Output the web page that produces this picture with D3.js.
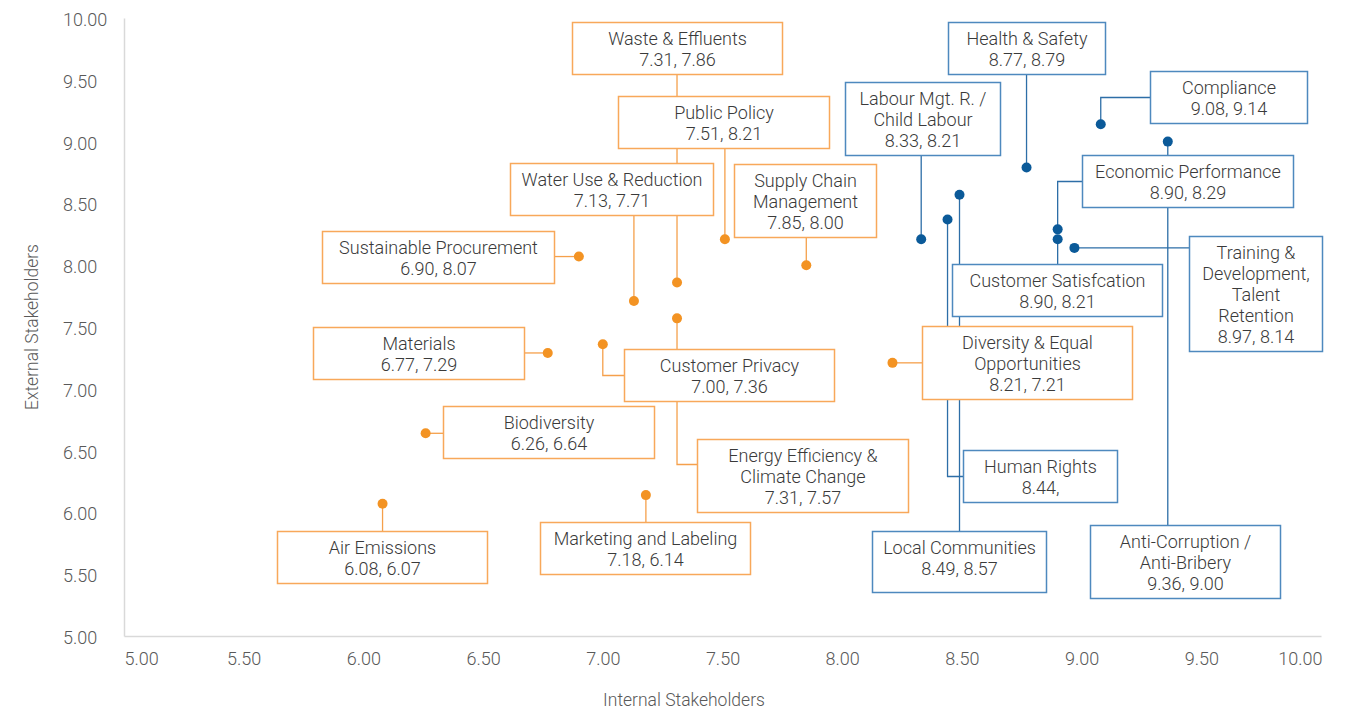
<!DOCTYPE html>
<html>
<head>
<meta charset="utf-8">
<script src="https://cdn.jsdelivr.net/npm/d3@7"></script>
<style>
  html, body { margin: 0; padding: 0; background: #ffffff; }
  svg { display: block; font-family: Roboto, "Noto Sans", sans-serif; font-weight: 300; }
</style>
</head>
<body>
<svg id="chart" width="1355" height="711"></svg>
<script>
// ---- Data: materiality scores (internal vs external stakeholders) ----
const topics = [
  "Waste & Effluents", "Public Policy", "Water Use & Reduction", "Supply Chain Management",
  "Sustainable Procurement", "Materials", "Customer Privacy", "Energy Efficiency & Climate Change",
  "Biodiversity", "Air Emissions", "Marketing and Labeling", "Diversity & Equal Opportunities",
  "Health & Safety", "Compliance", "Anti-Corruption / Anti-Bribery", "Labour Mgt. R. / Child Labour",
  "Economic Performance", "Customer Satisfcation", "Training & Development, Talent Retention",
  "Local Communities", "Human Rights"
];
const internalScores = [7.31, 7.51, 7.13, 7.85, 6.90, 6.77, 7.00, 7.31, 6.26, 6.08, 7.18, 8.21,
                        8.77, 9.08, 9.36, 8.33, 8.90, 8.90, 8.97, 8.49, 8.44];
const externalScores = [7.86, 8.21, 7.71, 8.00, 8.07, 7.29, 7.36, 7.57, 6.64, 6.07, 6.14, 7.21,
                        8.79, 9.14, 9.00, 8.21, 8.29, 8.21, 8.14, 8.57, 8.37];
// 0 = first series (orange), 1 = second series (blue)
const seriesOf = [0, 0, 0, 0, 0, 0, 0, 0, 0, 0, 0, 0,
                  1, 1, 1, 1, 1, 1, 1, 1, 1];
// topics whose callout leaves the external score blank
const blankExternal = ["Human Rights"];

const xTickValues = [5.00, 5.50, 6.00, 6.50, 7.00, 7.50, 8.00, 8.50, 9.00, 9.50, 10.00];
const yTickValues = [5.00, 5.50, 6.00, 6.50, 7.00, 7.50, 8.00, 8.50, 9.00, 9.50, 10.00];
const xTitle = "Internal Stakeholders";
const yTitle = "External Stakeholders";

// ---- Callout layout: name line breaks, box centre offset from the point (px), box size ----
const callouts = {
  "Waste & Effluents":                     { lines: ["Waste & Effluents"], dx: 0, dy: -234.5, w: 210 },
  "Public Policy":                         { lines: ["Public Policy"], dx: -1.4, dy: -117.7, w: 211 },
  "Water Use & Reduction":                 { lines: ["Water Use & Reduction"], dx: -22.4, dy: -112.5, w: 203 },
  "Supply Chain Management":               { lines: ["Supply Chain", "Management"], dx: -1.3, dy: -65.2, w: 142 },
  "Sustainable Procurement":               { lines: ["Sustainable Procurement"], dx: -140.9, dy: 0.5, w: 232 },
  "Materials":                             { lines: ["Materials"], dx: -129.2, dy: 0, w: 211 },
  "Customer Privacy":                      { lines: ["Customer Privacy"], dx: 126.2, dy: 30.2, w: 210 },
  "Energy Efficiency & Climate Change":    { lines: ["Energy Efficiency &", "Climate Change"], dx: 125.5, dy: 157.2, w: 211, attach: 25 },
  "Biodiversity":                          { lines: ["Biodiversity"], dx: 122.9, dy: -1.3, w: 211 },
  "Air Emissions":                         { lines: ["Air Emissions"], dx: -0.6, dy: 53.3, w: 210 },
  "Marketing and Labeling":                { lines: ["Marketing and Labeling"], dx: -0.9, dy: 52.9, w: 210 },
  "Diversity & Equal Opportunities":       { lines: ["Diversity & Equal", "Opportunities"], dx: 134.5, dy: -0.3, w: 210 },
  "Health & Safety":                       { lines: ["Health & Safety"], dx: 0, dy: -119.6, w: 157 },
  "Compliance":                            { lines: ["Compliance"], dx: 127.7, dy: -27.3, w: 157 },
  "Anti-Corruption / Anti-Bribery":        { lines: ["Anti-Corruption /", "Anti-Bribery"], dx: 17.2, dy: 419.9, w: 190 },
  "Labour Mgt. R. / Child Labour":         { lines: ["Labour Mgt. R. /", "Child Labour"], dx: 1.3, dy: -120.7, w: 155 },
  "Economic Performance":                  { lines: ["Economic Performance"], dx: 129.8, dy: -48.4, w: 211 },
  "Customer Satisfcation":                 { lines: ["Customer Satisfcation"], dx: -0.7, dy: 50.8, w: 210 },
  "Training & Development, Talent Retention": { lines: ["Training &", "Development,", "Talent", "Retention"], dx: 181.1, dy: 45.6, w: 133 },
  "Local Communities":                     { lines: ["Local Communities"], dx: -0.5, dy: 366.8, w: 174, h: 61 },
  "Human Rights":                          { lines: ["Human Rights"], dx: 92.5, dy: 256.5, w: 154 }
};

// ---- Styles ----
const palette = [
  { dot: "#F39323", box: "#F8A85A", lead: "#F5A04B" },
  { dot: "#0B5A99", box: "#4E89BE", lead: "#2D6EA7" }
];
const textColor = "#3a3a3a";
const axisText = "#595959";
const axisLine = "#D9D9D9";

const svg = d3.select("#chart");
const x = d3.scaleLinear().domain([5, 10]).range([124, 1321]);
const y = d3.scaleLinear().domain([5, 10]).range([636, 18]);
const fmt = d3.format(".2f");

// ---- Axes ----
const gx = svg.append("g").attr("transform", `translate(0,${y(5)})`)
  .call(d3.axisBottom(x).tickValues(xTickValues).tickFormat(fmt).tickSize(0).tickPadding(0));
gx.select(".domain").attr("stroke", axisLine).attr("stroke-width", 1.5);
gx.selectAll(".tick text")
  .attr("fill", axisText).attr("font-size", "18px")
  .attr("font-family", "Roboto, sans-serif").attr("font-weight", 300)
  .attr("dy", 0).attr("y", 22).attr("dominant-baseline", "central");
// keep the end labels within the axis extent
gx.selectAll(".tick").each(function(v) {
  const t = d3.select(this).select("text");
  const w = this.querySelector("text").getComputedTextLength();
  const cx = x(v);
  let shift = 0;
  if (cx - w / 2 < x(5)) shift = x(5) - (cx - w / 2);
  if (cx + w / 2 > x(10) + 1) shift = (x(10) + 1) - (cx + w / 2);
  t.attr("x", shift);
});

const gy = svg.append("g").attr("transform", `translate(${x(5)},0)`)
  .call(d3.axisLeft(y).tickValues(yTickValues).tickFormat(fmt).tickSize(0).tickPadding(0));
gy.select(".domain").attr("stroke", axisLine).attr("stroke-width", 1.5);
gy.selectAll(".tick text")
  .attr("fill", axisText).attr("font-size", "18px")
  .attr("font-family", "Roboto, sans-serif").attr("font-weight", 300)
  .attr("text-anchor", "start").attr("x", 63 - x(5)).attr("dy", 0).attr("y", 1)
  .attr("dominant-baseline", "central");

svg.append("text")
  .attr("x", 684).attr("y", 700)
  .attr("text-anchor", "middle").attr("dominant-baseline", "central")
  .attr("fill", axisText).attr("font-size", "17.5px")
  .text(xTitle);
svg.append("text")
  .attr("transform", `translate(32,${(y(5) + y(10)) / 2}) rotate(-90)`)
  .attr("text-anchor", "middle").attr("dominant-baseline", "central")
  .attr("fill", axisText).attr("font-size", "17.5px")
  .text(yTitle);

// ---- Records ----
const points = topics.map((name, i) => {
  const px = x(internalScores[i]);
  const py = y(externalScores[i]);
  const c = callouts[name];
  const n = c.lines.length + 1;
  const h = c.h || n * 21 + 10;
  const cx = px + c.dx, cy = py + c.dy;
  const l = Math.round(cx - c.w / 2) + 0.5;
  const t = Math.round(cy - h / 2) + 0.5;
  const valueLine = fmt(internalScores[i]) + ", " +
    (blankExternal.includes(name) ? "" : fmt(externalScores[i]));
  return {
    name, px, py, s: seriesOf[i],
    box: { l, t, r: l + c.w, b: t + h, attach: c.attach },
    lines: c.lines.concat([valueLine])
  };
});

// leader path from the point to the nearest side of its callout
function leader(p) {
  const b = p.box;
  const inX = p.px >= b.l && p.px <= b.r;
  const inY = p.py >= b.t && p.py <= b.b;
  if (inX) return [[p.px, p.py], [p.px, p.py < b.t ? b.t : b.b]];
  if (inY) return [[p.px, p.py], [p.px < b.l ? b.l : b.r, p.py]];
  const ex = p.px < b.l ? b.l : b.r;
  const ay = b.t + (b.attach != null ? b.attach : (b.b - b.t) / 2);
  return [[p.px, p.py], [p.px, ay], [ex, ay]];
}

const line = d3.line();
svg.append("g").selectAll("path").data(points).join("path")
  .attr("d", d => line(leader(d)))
  .attr("fill", "none")
  .attr("stroke", d => palette[d.s].lead)
  .attr("stroke-width", 1.3);

svg.append("g").selectAll("circle").data(points).join("circle")
  .attr("cx", d => d.px).attr("cy", d => d.py).attr("r", 5)
  .attr("fill", d => palette[d.s].dot);

const boxes = svg.append("g").selectAll("g").data(points).join("g");
boxes.append("rect")
  .attr("x", d => d.box.l).attr("y", d => d.box.t)
  .attr("width", d => d.box.r - d.box.l).attr("height", d => d.box.b - d.box.t)
  .attr("fill", "#ffffff")
  .attr("stroke", d => palette[d.s].box).attr("stroke-width", 1.5);
boxes.each(function(d) {
  const g = d3.select(this);
  const cx = (d.box.l + d.box.r) / 2;
  d.lines.forEach((txt, k) => {
    g.append("text")
      .attr("x", cx).attr("y", d.box.t + 16 + k * 21)
      .attr("text-anchor", "middle").attr("dominant-baseline", "central")
      .attr("fill", textColor).attr("font-size", "18px")
      .text(txt);
  });
});
</script>
</body>
</html>
